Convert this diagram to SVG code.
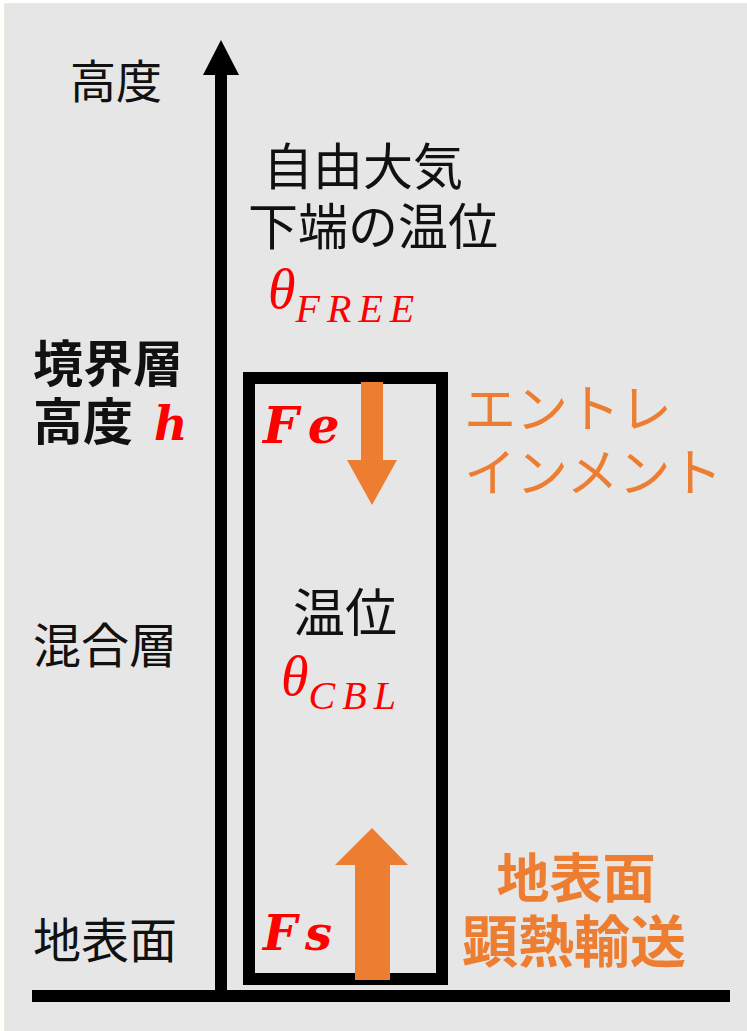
<svg xmlns="http://www.w3.org/2000/svg" width="747" height="1031" viewBox="0 0 747 1031">
<style>
.jp{font-family:"Noto Sans CJK JP","Noto Sans",sans-serif;fill:#111}
.bold{font-weight:bold}
.or{fill:#ED7D31}
.math{font-family:"Liberation Serif","DejaVu Serif",serif;font-style:italic;fill:#FF0000}
.mb{font-family:"DejaVu Serif","Liberation Serif",serif;font-style:italic;font-weight:bold;fill:#FF0000}
</style>
<rect x="0" y="0" width="747" height="1031" fill="#ffffff"/>
<rect x="4.5" y="3.5" width="743" height="1028" fill="#e6e6e6" stroke="#e2efd9" stroke-width="1"/>
<g id="connectors">
<rect x="215" y="72" width="12" height="924" fill="#000"/>
<polygon points="221,40 239,75 203,75" fill="#000"/>
<rect x="32" y="990" width="698" height="12" fill="#000"/>
</g>
<g id="box">
<rect x="249" y="378" width="193" height="601" fill="none" stroke="#000" stroke-width="12"/>
</g>
<g id="entrainment-arrow">
<polygon points="361,382 383,382 383,460 397,460 372,505 347,460 361,460" fill="#ED7D31"/>
</g>
<g id="surface-arrow">
<polygon points="355,980 390,980 390,865 408,865 372,828 335,865 355,865" fill="#ED7D31"/>
</g>
<g id="label-height">
<text class="jp" x="70" y="98" font-size="46">高度</text>
</g>
<g id="label-free">
<text class="jp" x="363" y="185" font-size="50" text-anchor="middle">自由大気</text>
<text class="jp" x="373" y="245" font-size="50" text-anchor="middle">下端の温位</text>
<text class="math" x="268" y="308" font-size="56">θ<tspan font-size="40" dy="14" letter-spacing="7">FREE</tspan></text>
</g>
<g id="label-bl">
<text class="jp bold" x="33" y="382" font-size="50">境界層</text>
<text class="jp bold" x="33" y="440" font-size="50">高度</text>
<text class="mb" x="154" y="440" font-size="46">h</text>
</g>
<g id="label-fe">
<text class="mb" x="263" y="443" font-size="50" letter-spacing="12">Fe</text>
</g>
<g id="label-entrain">
<text class="jp or" x="464" y="428" font-size="52">エントレ</text>
<text class="jp or" x="464" y="492" font-size="52">インメント</text>
</g>
<g id="label-cbl">
<text class="jp" x="345" y="632" font-size="52" text-anchor="middle">温位</text>
<text class="math" x="281" y="695" font-size="56">θ<tspan font-size="40" dy="14" letter-spacing="7">CBL</tspan></text>
</g>
<g id="label-mixed">
<text class="jp" x="33" y="663" font-size="48">混合層</text>
</g>
<g id="label-surface">
<text class="jp" x="33" y="958" font-size="48">地表面</text>
</g>
<g id="label-fs">
<text class="mb" x="263" y="950" font-size="48" letter-spacing="8">Fs</text>
</g>
<g id="label-sensible">
<text class="jp bold or" x="576" y="898" font-size="53" text-anchor="middle">地表面</text>
<text class="jp bold or" x="574" y="962" font-size="56" text-anchor="middle">顕熱輸送</text>
</g>
</svg>
